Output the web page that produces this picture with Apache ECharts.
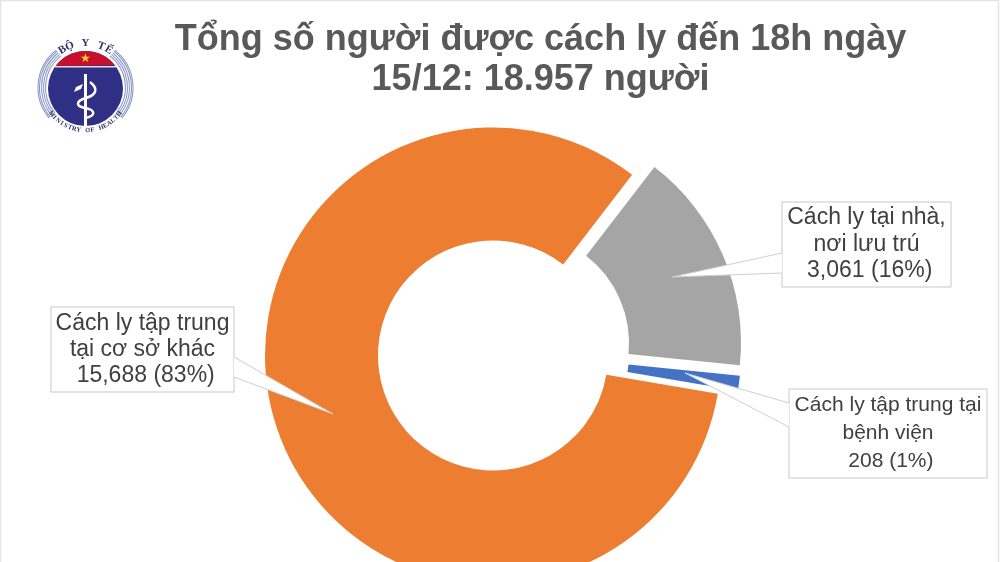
<!DOCTYPE html>
<html><head><meta charset="utf-8">
<style>html,body{margin:0;padding:0;background:#fff}#c{width:1000px;height:562px}</style>
<script src="https://cdn.jsdelivr.net/npm/echarts@6/dist/echarts.min.js"></script>
</head><body><div id="c"></div>
<script>
const titleText = 'Tổng số người được cách ly đến 18h ngày\n15/12: 18.957 người';
const categories = ['Cách ly tại nhà,\nnơi lưu trú', 'Cách ly tập trung tại\nbệnh viện', 'Cách ly tập trung\ntại cơ sở khác'];
const values = [3061, 208, 15688];
const percents = ['16%', '1%', '83%'];
const colors = ['#A5A5A5', '#4472C4', '#ED7D31'];

// layout of the exploded slices and their callouts
const centers = [[519, 343], [519, 353.5], [493, 355.5]];
const radii = [[110, 222], [110, 222], [115, 228]];
const boxes = [[782, 202, 169, 85], [789, 389, 198, 89], [51, 307, 183, 85]];
const labelSizes = [23, 21, 23];
const labelLines = [26.5, 28, 26];
const wedges = [
  [[782, 253], [672, 277], [782, 273]],
  [[789, 403], [685, 373], [789, 427]],
  [[234, 357], [333, 414], [234, 377]]
];
const lcx = 85.5, lcy = 88.5;

const fmt = v => v.toLocaleString('en-US');
const series = categories.map((_, i) => ({
  type: 'pie', silent: true, animation: false, z: 2,
  center: centers[i], radius: radii[i], startAngle: 52.4, clockwise: true,
  labelLine: { show: false },
  labelLayout: () => ({ x: boxes[i][0] + boxes[i][2] / 2, y: boxes[i][1] + boxes[i][3] / 2, align: 'center', verticalAlign: 'middle', hideOverlap: false }),
  data: categories.map((c, j) => ({
    name: c, value: values[j],
    itemStyle: { color: colors[j], opacity: i === j ? 1 : 0 },
    label: {
      show: i === j, position: 'outside', alignTo: 'none',
      formatter: c + '\n\u00a0' + fmt(values[j]) + ' (' + percents[j] + ')',
      width: boxes[j][2] - 1, height: boxes[j][3] - 4, padding: [3, 0, 0, 0], lineHeight: labelLines[j],
      align: 'center', verticalAlign: 'middle', overflow: 'none',
      fontFamily: 'Liberation Sans', fontSize: labelSizes[j], color: '#404040',
      backgroundColor: '#fff', borderColor: '#c8c8c8', borderWidth: 1
    }
  }))
}));

const g = [];
// faint frame of the picture
g.push({ type: 'rect', z: 0, shape: { x: 0.5, y: 0.5, width: 998, height: 570 }, style: { fill: 'none', stroke: '#e4e4e4', lineWidth: 1.5 } });
// callout wedges
wedges.forEach(w => {
  g.push({ type: 'polygon', z: 5, shape: { points: w }, style: { fill: '#fff', stroke: 'none' } });
  g.push({ type: 'polyline', z: 6, shape: { points: w }, style: { fill: 'none', stroke: '#cfcfcf', lineWidth: 1 } });
});
// emblem
[40, 42, 44, 46, 47.5].forEach(r => {
  [[-52, 40], [140, 232]].forEach(a => g.push({ type: 'arc', z: 3,
    shape: { cx: lcx, cy: lcy - 1, r, startAngle: a[0] * Math.PI / 180, endAngle: a[1] * Math.PI / 180 },
    style: { fill: 'none', stroke: '#8f9ac4', lineWidth: 1.1 } }));
});
g.push({ type: 'circle', z: 3, shape: { cx: lcx, cy: lcy, r: 37.5 }, style: { fill: '#2f2f86' } });
const capPts = [];
for (let d = -53; d <= 53; d += 4) {
  const a = d * Math.PI / 180;
  capPts.push([lcx + 37.5 * Math.sin(a), lcy - 37.5 * Math.cos(a)]);
}
g.push({ type: 'polygon', z: 4, shape: { points: capPts }, style: { fill: '#c8102e' } });
g.push({ type: 'rect', z: 4, shape: { x: 55, y: 66, width: 61, height: 1.5 }, style: { fill: '#f3d9de' } });
g.push({ type: 'text', z: 5, style: { text: '★', x: lcx, y: 59, align: 'center', verticalAlign: 'middle', fontSize: 12, fill: '#f6d12a', fontFamily: 'DejaVu Sans' } });
g.push({ type: 'line', z: 5, shape: { x1: lcx, y1: 74, x2: lcx, y2: 126 }, style: { stroke: '#fff', lineWidth: 3 } });
[
  [90, 82, 99, 89, 96, 95, 86, 98],
  [86, 98, 76, 101, 75, 106, 85, 108],
  [85, 108, 96, 110, 96, 116, 85, 118]
].forEach(b => g.push({ type: 'bezierCurve', z: 5,
  shape: { x1: b[0], y1: b[1], cpx1: b[2], cpy1: b[3], cpx2: b[4], cpy2: b[5], x2: b[6], y2: b[7] },
  style: { fill: 'none', stroke: '#fff', lineWidth: 2.5 } }));
g.push({ type: 'polygon', z: 5, shape: { points: [[74, 92], [76, 87], [83, 84], [81, 89]] }, style: { fill: '#fff' } });
function arcText(txt, radius, midDeg, stepDeg, top, size) {
  const chars = Array.from(txt);
  chars.forEach((ch, k) => {
    const off = (k - (chars.length - 1) / 2) * stepDeg;
    const deg = top ? midDeg + off : midDeg - off;
    const a = deg * Math.PI / 180;
    g.push({ type: 'text', z: 5,
      x: lcx + radius * Math.sin(a), y: lcy - 1 - radius * Math.cos(a),
      rotation: top ? -a : Math.PI - a,
      style: { text: ch, x: 0, y: 0, align: 'center', verticalAlign: 'middle', fontSize: size, fontWeight: 'bold', fill: '#2f2f6e', fontFamily: 'Liberation Serif' } });
  });
}
arcText('BỘ Y TẾ', 44, 0, 10.5, true, 11);
arcText('MINISTRY OF HEALTH', 43, 180, 6.1, false, 6.5);

const chart = echarts.init(document.getElementById('c'), null, { renderer: 'canvas' });
chart.setOption({
  backgroundColor: '#fff', animation: false,
  title: { text: titleText, left: 535.5, top: 15, textAlign: 'center',
    textStyle: { fontFamily: 'Liberation Sans', fontWeight: 'bold', fontSize: 36, lineHeight: 40, color: '#595959' } },
  tooltip: { show: false },
  series,
  graphic: g
});
</script></body></html>
